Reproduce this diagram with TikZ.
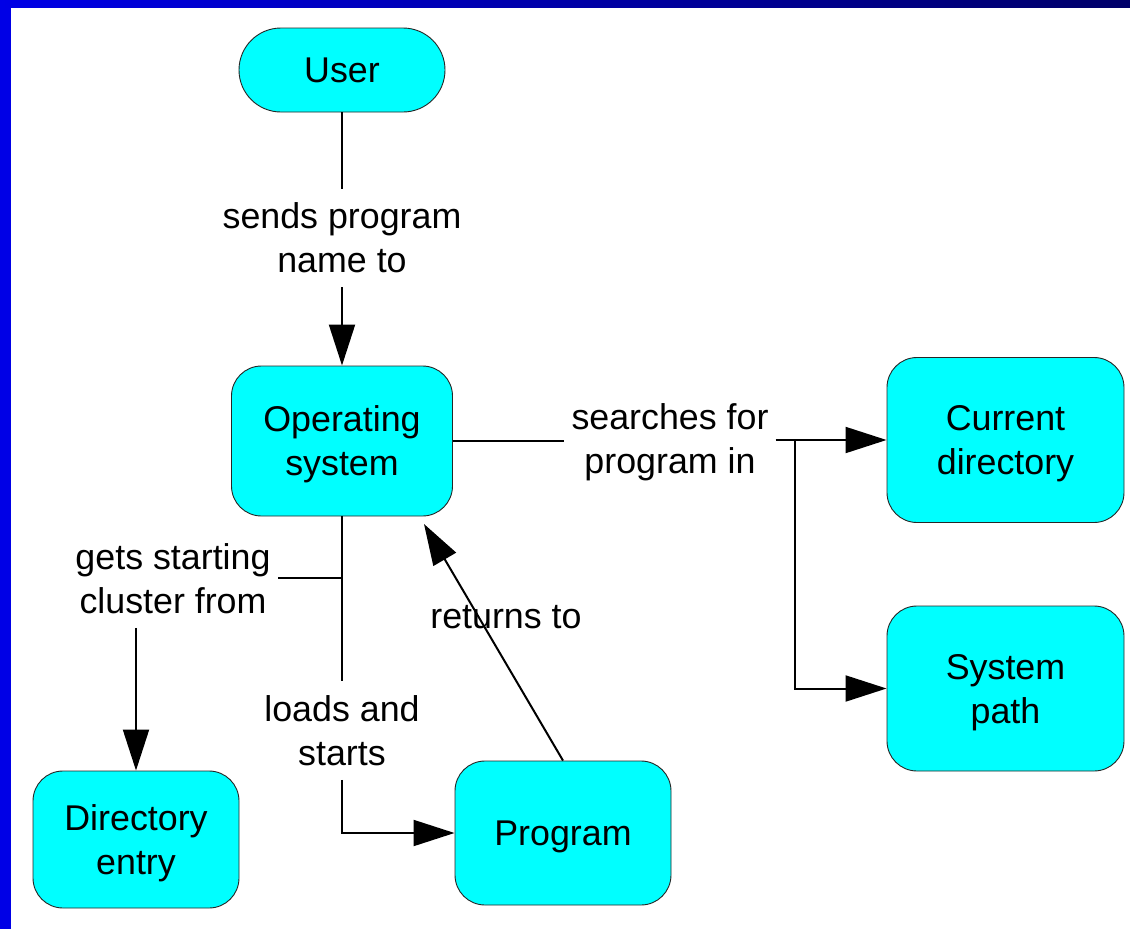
\documentclass[tikz,border=0pt]{standalone}
\usepackage{fontspec}
\setmainfont{Liberation Sans}
\usetikzlibrary{arrows.meta}
\definecolor{barblue}{RGB}{0,0,230}
\definecolor{barnavy}{RGB}{0,0,105}
\definecolor{boxcyan}{RGB}{0,255,255}
\newcommand\dfont{\fontsize{35.8}{44}\selectfont}
\begin{document}
\begin{tikzpicture}[x=1pt,y=-1pt,
  box/.style={draw=black!85, line width=0.9pt, fill=boxcyan, rounded corners=30pt,
    align=center, font=\dfont, inner sep=0pt, text depth=0pt},
  lab/.style={align=center, font=\dfont, inner xsep=7pt, inner ysep=14pt},
  conn/.style={line width=2pt},
  arr/.style={conn, -{Triangle[length=41pt,width=26pt]}}
]
\useasboundingbox (0,0) rectangle (1130,929);
\fill[white] (0,0) rectangle (1130,929);
\fill[barblue] (0,0) rectangle (11,929);
\shade[left color=barblue, right color=barnavy] (0,0) rectangle (1130,7);

% main nodes
\node[box, minimum width=206pt, minimum height=84pt, rounded corners=42pt] (user) at (342,70) {User};
\node[box, minimum width=221pt, minimum height=150pt] (os) at (342,441) {Operating\\system};
\node[box, minimum width=237pt, minimum height=165pt] (cur) at (1005.5,440) {Current\\directory};
\node[box, minimum width=237pt, minimum height=165pt] (sys) at (1005.5,688.5) {System\\path};
\node[box, minimum width=206pt, minimum height=137pt] (dir) at (136,839.5) {Directory\\entry};
\node[box, minimum width=216pt, minimum height=144pt] (prog) at (563,833) {Program};

% labels
\node[lab] (l1) at (342,238) {sends program\\name to};
\node[lab] (l2) at (670,442.5) {searches for\\program in};
\node[lab] (l3) at (173,578.5) {gets starting\\cluster from};
\node[lab] (l4) at (342,730.5) {loads and\\starts};
\node[font=\dfont] (l5) at (506,617) {returns to};

% junctions
\coordinate (j1) at (795,440);
\coordinate (j2) at (342,578);
\coordinate (rt) at (424,524);

% connectors
\draw[conn] (user) -- (l1);
\draw[arr] (l1) -- (os);
\draw[conn] (os.east) -- (os.east -| l2.west);
\draw[arr] (l2.east |- cur.west) -- (cur.west);
\draw[arr] (j1) |- (sys);
\draw[conn] (os) -- (l4);
\draw[arr] (l4) |- (prog);
\draw[conn] (j2) -- (j2 -| l3.east);
\draw[arr] (l3.south -| dir.north) -- (dir.north);
\draw[arr] (prog.north) -- (rt);
\end{tikzpicture}
\end{document}
